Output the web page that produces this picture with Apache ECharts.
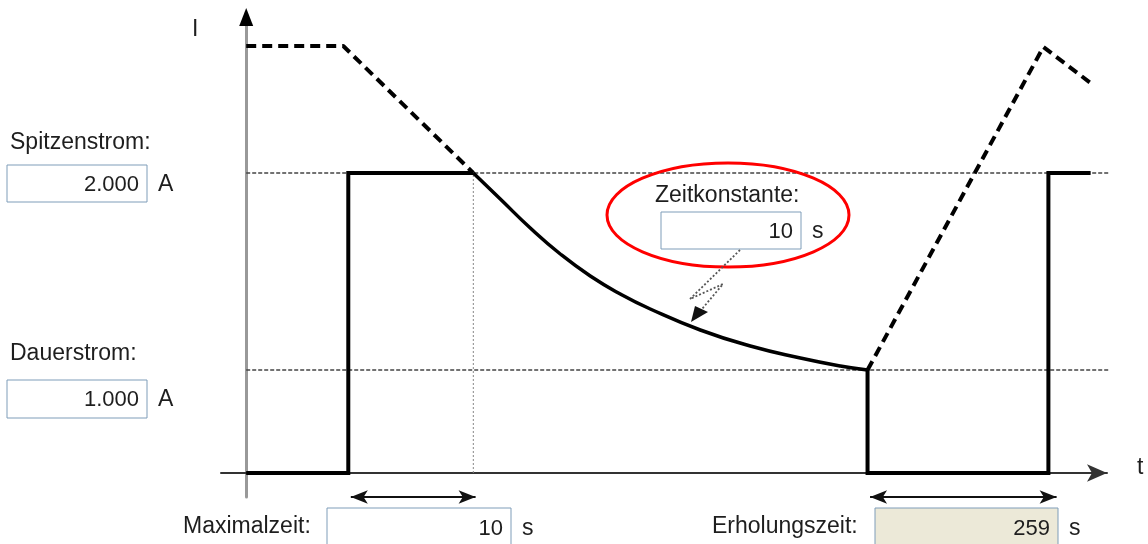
<!DOCTYPE html>
<html>
<head>
<meta charset="utf-8">
<script src="https://cdn.jsdelivr.net/npm/echarts@6/dist/echarts.min.js"></script>
<style>
  html, body { margin: 0; background: #fff; }
  #chart { width: 1148px; height: 544px; }
</style>
</head>
<body>
<div id="chart"></div>
<script>
// schematic: t in abstract time units, I in abstract current units
const pulseRise = [[0, 0], [8.1, 0], [8.1, 3.0], [18.02, 3.0]];
const decayCurve = [[18.02, 3.0], [20.16, 2.74], [22.54, 2.45], [24.92, 2.19], [27.3, 1.97], [29.68, 1.79],
  [32.06, 1.64], [36.03, 1.43], [40.0, 1.27], [43.97, 1.15], [47.14, 1.07], [49.3, 1.03]];
const recoveryStep = [[49.3, 1.03], [49.3, 0], [63.65, 0], [63.65, 3.0], [67.0, 3.0]];
const limitBefore = [[0, 4.27], [7.7, 4.27], [18.02, 3.0]];
const limitAfter = [[49.3, 1.03], [63.25, 4.26], [67.0, 3.9]];
const refLevels = [3.0, 1.03];
const refEnd = 68.6;
const maxTimeSpan = [8.1, 18.02];
const maxTimeArrow = [8.3, 18.2];
const recoveryArrow = [49.5, 64.3];
const yTop = 4.56;

const peakCurrent = "2.000";
const contCurrent = "1.000";
const timeConstant = "10";
const maxTime = "10";
const recoveryTime = "259";

const FONT = '23px "Liberation Sans", Arial, sans-serif';
const VALUE_FONT = '22px "Liberation Sans", Arial, sans-serif';
const INK = "#1e1e1e";

const chart = echarts.init(document.getElementById("chart"));

function dotted(data, color, dash, width) {
  return {
    type: "line", data, symbol: "none", clip: false, silent: true,
    lineStyle: { color, width, type: dash },
  };
}

function label(x, y, text, align, font) {
  return {
    type: "text", x, y, z: 10,
    style: { text, font: font || FONT, fill: INK, align: align || "left", verticalAlign: "middle" },
  };
}

function field(x, y, w, h, value, unit, fill) {
  return [
    { type: "rect", z: 9, shape: { x, y, width: w, height: h }, style: { fill: fill || "#fff", stroke: "#7f9db9", lineWidth: 1 } },
    label(x + w - 8, y + h / 2 + 1, value, "right", VALUE_FONT),
    label(x + w + 11, y + h / 2 + 1, unit),
  ];
}

function spanArrow(span) {
  return [{ coord: [span[0], -0.24] }, { coord: [span[1], -0.24] }];
}

const series = [
  ...refLevels.map((v) => dotted([[0, v], [refEnd, v]], "#444", [4, 2], 1.5)),
  dotted([[maxTimeSpan[1], 0], [maxTimeSpan[1], refLevels[0]]], "#888", [2, 2], 1),
  {
    type: "line", data: limitBefore, symbol: "none", clip: false,
    lineStyle: { color: "#000", width: 4, type: [10, 6] },
  },
  {
    type: "line", data: limitAfter, symbol: "none", clip: false,
    lineStyle: { color: "#000", width: 4, type: [10, 6] },
  },
  {
    type: "line", data: pulseRise, symbol: "none", clip: false,
    lineStyle: { color: "#000", width: 4, join: "miter" },
    markPoint: {
      silent: true, symbol: "triangle", symbolSize: [14, 18],
      itemStyle: { color: "#000" }, label: { show: false },
      data: [{ coord: [0, yTop] }],
    },
  },
  {
    type: "line", data: decayCurve, symbol: "none", smooth: 0.5, clip: false,
    lineStyle: { color: "#000", width: 3.5 },
  },
  {
    type: "line", data: recoveryStep, symbol: "none", clip: false,
    lineStyle: { color: "#000", width: 4, join: "miter" },
    markLine: {
      silent: true, symbol: ["arrow", "arrow"], symbolSize: [10, 17],
      label: { show: false },
      lineStyle: { color: "#111", width: 2, type: "solid" },
      data: [spanArrow(maxTimeArrow), spanArrow(recoveryArrow)],
    },
  },
];

const graphic = [
  label(192, 30, "I"),
  label(1137, 468, "t"),
  label(10, 143, "Spitzenstrom:"),
  ...field(7, 165, 140, 37, peakCurrent, "A"),
  label(10, 354, "Dauerstrom:"),
  ...field(7, 380, 140, 38, contCurrent, "A"),
  label(655, 196, "Zeitkonstante:"),
  ...field(661, 212, 140, 37, timeConstant, "s"),
  label(183, 527, "Maximalzeit:"),
  ...field(327, 508, 184, 40, maxTime, "s"),
  label(712, 527, "Erholungszeit:"),
  ...field(875, 508, 183, 40, recoveryTime, "s", "#ece9d8"),
  {
    type: "ellipse", z: 8, shape: { cx: 728, cy: 215, rx: 121, ry: 52 },
    style: { fill: "none", stroke: "#f00", lineWidth: 3 },
  },
  {
    type: "polyline", z: 11, shape: { points: [[740, 250], [690, 299], [723, 284], [702, 309]] },
    style: { stroke: "#555", lineWidth: 1.8, lineDash: [2, 2], fill: "none" },
  },
  {
    type: "polygon", z: 11, shape: { points: [[691, 322], [695, 306], [708, 312]] },
    style: { fill: "#111" },
  },
];

chart.setOption({
  animation: false,
  grid: { left: 221, right: 41, top: 17, bottom: 47 },
  xAxis: {
    type: "value", min: -2, max: 68.3,
    axisLine: { onZero: true, symbol: ["none", "arrow"], symbolSize: [13, 20], lineStyle: { color: "#333", width: 2 } },
    axisTick: { show: false }, axisLabel: { show: false }, splitLine: { show: false },
  },
  yAxis: {
    type: "value", min: -0.24, max: yTop,
    axisLine: { onZero: true, lineStyle: { color: "#999", width: 3 } },
    axisTick: { show: false }, axisLabel: { show: false }, splitLine: { show: false },
  },
  series,
  graphic,
});
</script>
</body>
</html>
